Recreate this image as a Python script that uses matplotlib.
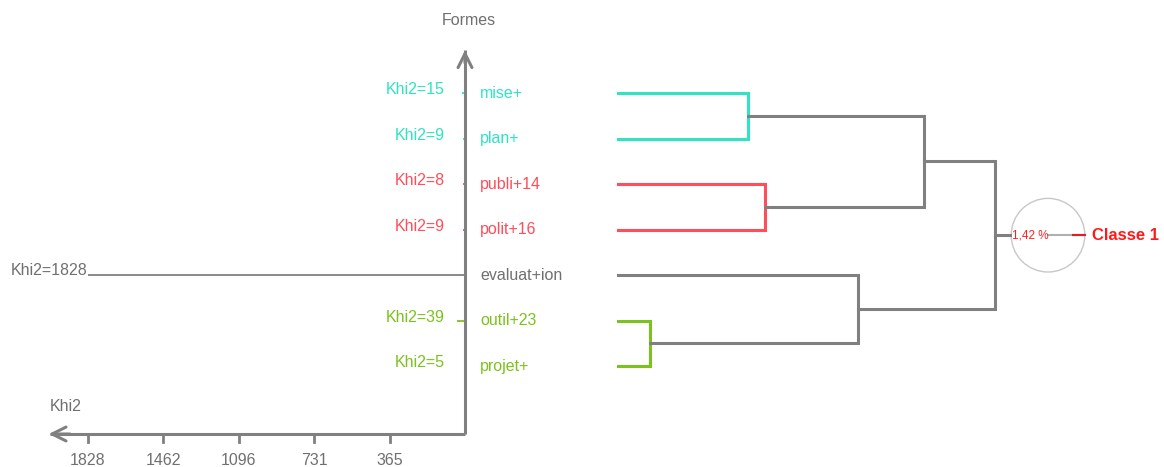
import matplotlib.pyplot as plt

plt.rcParams['font.family'] = ['Liberation Sans', 'DejaVu Sans']

# leaves, top to bottom
formes = ['mise+', 'plan+', 'publi+14', 'polit+16', 'evaluat+ion', 'outil+23', 'projet+']
khi2 = [15, 9, 8, 9, 1828, 39, 5]
leaf_colors = ['#2fe3c3', '#2fe3c3', '#ff4d5a', '#ff4d5a', '#707070', '#7cc21e', '#7cc21e']
khi_ticks = [1828, 1462, 1096, 731, 365]

# merges: (left, right, height, colour); nodes 7.. are the new clusters
merges = [(0, 1, 130, '#2fe3c3'),
          (2, 3, 147, '#ff4d5a'),
          (5, 6, 32, '#7cc21e'),
          (4, 9, 240, '#808080'),
          (7, 8, 306, '#808080'),
          (11, 10, 377, '#808080')]
classe = 'Classe 1'
pct = '1,42 %'

gray = '#808080'
W, H = 1164, 467
fig = plt.figure(figsize=(W / 100, H / 100), dpi=100)

# left part: Khi2 scale
ax = fig.add_axes([0, 0, 1, 1])
px = 4.844  # khi2 per pixel
ax.set_xlim(465 * px, -(W - 465) * px)
ax.set_ylim((H - 93) / 45.5, -93 / 45.5)
ax.axis('off')

fs = 11.5
rows = list(range(len(formes)))
for i, (f, k, c) in enumerate(zip(formes, khi2, leaf_colors)):
    lc = gray if k > 100 else c
    ax.plot([0, k], [i, i], color=lc, lw=1.3, solid_capstyle='butt')
    if k > 100:
        ax.text(k, i - 0.1, f'Khi2={k}', color='#707070', fontsize=fs, ha='right', va='center')
    else:
        ax.text(20 * px, i - 0.07, f'Khi2={k}', color=c, fontsize=fs, ha='right', va='center')
    ax.text(-15 * px, i, f, color=c, fontsize=fs, ha='left', va='center')

y_axis = (434 - 93) / 45.5
ax.plot([0, 0], [y_axis, -0.95], color=gray, lw=2.2, solid_capstyle='butt')
ax.plot([0, 2010], [y_axis, y_axis], color=gray, lw=2.2, solid_capstyle='butt')
ax.annotate('', xy=(0, -1.0), xytext=(0, -0.6),
            arrowprops=dict(arrowstyle='->,head_length=1.0,head_width=0.5', color=gray, lw=2.2))
ax.annotate('', xy=(2030, y_axis), xytext=(1900, y_axis),
            arrowprops=dict(arrowstyle='->,head_length=1.0,head_width=0.5', color=gray, lw=2.2))
for t in khi_ticks:
    ax.plot([t, t], [y_axis, y_axis + 0.17], color=gray, lw=2)
    ax.text(t, y_axis + 0.58, str(t), color='#707070', fontsize=11.5, ha='center', va='center')
ax.text(1935, y_axis - 0.6, 'Khi2', color='#707070', fontsize=fs, ha='center', va='center')
ax.text(-4 * px, -1.6, 'Formes', color='#707070', fontsize=fs, ha='center', va='center')

# right part: dendrogram
ax2 = fig.add_axes([0, 0, 1, 1], sharey=ax)
ax2.set_xlim(-618, W - 618)
ax2.axis('off')

pos = {i: (0, i) for i in rows}
for n, (a, b, h, c) in enumerate(merges):
    xa, ya = pos[a]
    xb, yb = pos[b]
    ax2.plot([xa, h, h, xb], [ya, ya, yb, yb], color=c, lw=2.2, solid_joinstyle='miter')
    pos[len(rows) + n] = (h, (ya + yb) / 2)

xt, yt = pos[len(rows) + len(merges) - 1]
ax2.plot([xt, xt + 15], [yt, yt], color=gray, lw=2.2)
cx = xt + 53
ax2.scatter([cx], [yt], s=53 ** 2, facecolors='none', edgecolors='#c8c8c8', lw=1)
ax2.plot([cx, cx + 37], [yt, yt], color='#b0b0b0', lw=1.5)
ax2.plot([cx + 25, cx + 37], [yt, yt], color='#e02020', lw=1.5)
ax2.text(cx + 1, yt, pct, color='#ff2020', fontsize=8.5, ha='right', va='center')
ax2.text(cx + 44, yt, classe, color='#ff1a1a', fontsize=12, fontweight='bold', ha='left', va='center')

fig.savefig('out.png', dpi=100)
